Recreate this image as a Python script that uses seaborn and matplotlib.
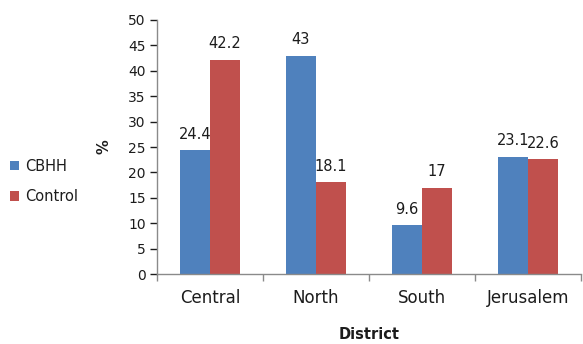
import matplotlib
matplotlib.use("Agg")
import matplotlib.pyplot as plt
import seaborn as sns
import pandas as pd

districts = ["Central", "North", "South", "Jerusalem"]
cbhh = [24.4, 43, 9.6, 23.1]
control = [42.2, 18.1, 17, 22.6]
series_names = ["CBHH", "Control"]
y_ticks = [0, 5, 10, 15, 20, 25, 30, 35, 40, 45, 50]

df = pd.DataFrame({
    "District": districts * 2,
    "value": cbhh + control,
    "group": [series_names[0]] * len(districts) + [series_names[1]] * len(districts),
})

sns.set_style("white")
plt.rcParams["font.family"] = ["DejaVu Sans"]

TEXT = "#1c1c1c"
AXIS = "#8a8a8a"

fig = plt.figure(figsize=(5.83, 3.44), dpi=100)
ax = fig.add_axes([0.269, 0.203, 0.728, 0.739])

palette = {"CBHH": "#4F81BD", "Control": "#C0504D"}
sns.barplot(data=df, x="District", y="value", hue="group", palette=palette,
            width=0.57, saturation=1, linewidth=0, ax=ax, legend=True)

# value labels above each bar
for container in ax.containers:
    ax.bar_label(container, labels=[f"{v:g}" for v in container.datavalues],
                 padding=6, fontsize=10.5, color=TEXT)

ax.set_ylim(0, 50)
ax.set_yticks(y_ticks)
ax.set_xlim(-0.5, 3.5)
ax.tick_params(axis="y", labelsize=10, colors=TEXT, length=5,
               width=1, direction="out", left=True, pad=3)
for t in ax.get_yticklines():
    t.set_color(AXIS)

# category boundary ticks on the x axis
ax.set_xticks([-0.5, 0.5, 1.5, 2.5, 3.5], minor=True)
ax.tick_params(axis="x", which="major", length=0, labelsize=12,
               colors=TEXT, pad=11)
ax.tick_params(axis="x", which="minor", length=5, width=1,
               color=AXIS, bottom=True, direction="out")

for side in ["top", "right"]:
    ax.spines[side].set_visible(False)
for side in ["left", "bottom"]:
    ax.spines[side].set_color(AXIS)
    ax.spines[side].set_linewidth(1)

ax.set_xlabel("District", fontsize=10.5, fontweight="bold", color=TEXT,
              labelpad=14)
ax.set_ylabel("%", fontsize=10.5, fontweight="bold", color=TEXT,
              labelpad=12)

leg = ax.legend(loc="center left", bbox_to_anchor=(-0.345, 0.365), frameon=False,
                fontsize=10.5, handlelength=0.6, handleheight=0.6,
                handletextpad=0.4, labelspacing=1.05, borderaxespad=0,
                borderpad=0)
for text in leg.get_texts():
    text.set_color(TEXT)

fig.savefig("out.png", dpi=100)
